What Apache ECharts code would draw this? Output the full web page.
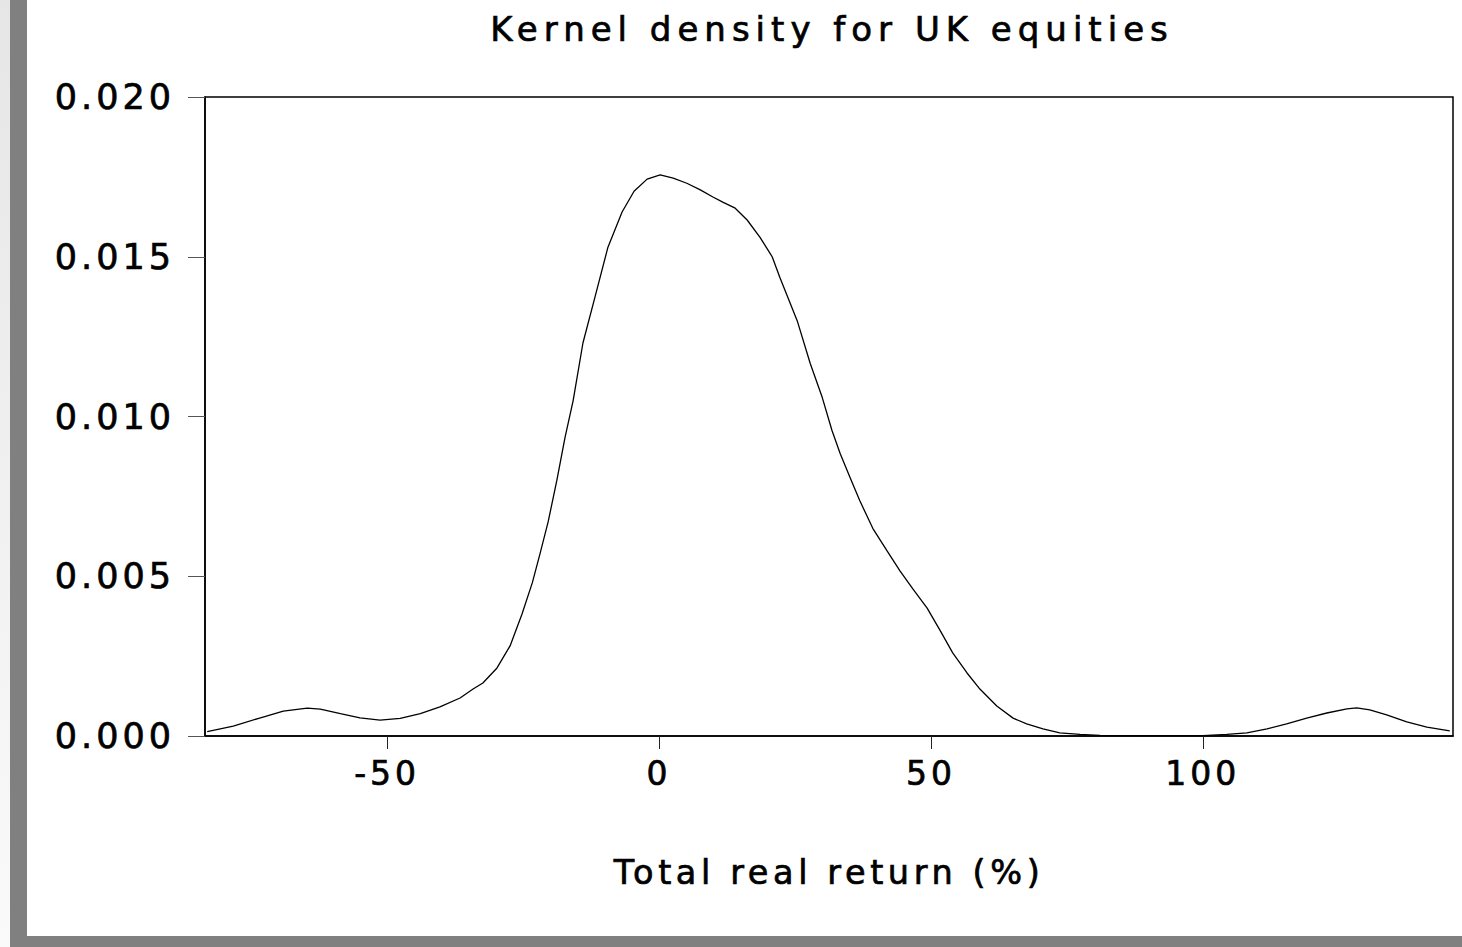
<!DOCTYPE html>
<html>
<head>
<meta charset="utf-8">
<script src="https://cdn.jsdelivr.net/npm/echarts@6/dist/echarts.min.js"></script>
<style>
  html, body { margin: 0; padding: 0; background: #fff; }
  #chart { width: 1462px; height: 947px; }
  /* wide, spaced-out lettering of the original graph export */
  #chart text { letter-spacing: 4px; }
  #chart text[style*="34px"] { letter-spacing: 6px; }
  #chart text[style*="33.5px"] { letter-spacing: 4.6px; }
</style>
</head>
<body>
<div id="chart"></div>
<script>
// Kernel density estimate of UK equity total real returns (%)
const returnPct = [
  -83.1, -78.3, -73.3, -69.1, -64.7, -62.3, -58.6, -55.0, -51.3, -47.6,
  -43.9, -40.3, -36.6, -34.2, -32.4, -29.8, -27.4, -25.2, -23.3, -21.9,
  -20.4, -18.8, -17.3, -15.8, -14.0, -11.8, -9.4, -6.8, -4.6, -2.2,
  0.2, 2.6, 5.1, 7.5, 9.9, 11.8, 14.0, 16.2, 18.6, 20.8,
  22.2, 25.4, 27.8, 30.0, 31.8, 33.3, 35.1, 36.9, 39.3, 41.9,
  44.3, 46.7, 49.3, 51.7, 54.0, 56.6, 59.0, 62.1, 65.1, 67.6,
  70.6, 73.7, 77.4, 81.1, 90.3, 100.0, 104.4, 108.1, 111.8, 115.4,
  119.1, 122.8, 126.5, 128.3, 130.7, 133.8, 137.5, 141.2, 145.4
];
const density = [
  0.000135, 0.00031, 0.00057, 0.00078, 0.00087, 0.00084, 0.00070, 0.00057, 0.00050, 0.00055,
  0.00070, 0.00091, 0.00119, 0.00147, 0.00166, 0.00213, 0.00282, 0.00382, 0.00480, 0.00570,
  0.00670, 0.00800, 0.00934, 0.01050, 0.01230, 0.01373, 0.01530, 0.01640, 0.01705, 0.01743,
  0.01756, 0.01746, 0.01730, 0.01710, 0.01687, 0.01670, 0.01652, 0.01615, 0.01560, 0.01500,
  0.01436, 0.01300, 0.01166, 0.01060, 0.00956, 0.00884, 0.00810, 0.00737, 0.00650, 0.00580,
  0.00517, 0.00460, 0.00400, 0.00330, 0.00260, 0.00198, 0.00147, 0.00094, 0.00056, 0.00038,
  0.00022, 0.00010, 0.00005, 0.00002, 0.00001, 0.00001, 0.00005, 0.00010, 0.00022, 0.00038,
  0.00056, 0.00072, 0.00085, 0.00088, 0.00082, 0.00066, 0.00044, 0.00028, 0.00016
];
const xTickValues = [-50, 0, 50, 100];
const titleText = 'Kernel density for UK equities';
const xAxisTitle = 'Total real return (%)';

const points = returnPct.map((x, i) => [x, density[i]]);

const chart = echarts.init(document.getElementById('chart'), null, { renderer: 'svg' });

const FONT = 'DejaVu Sans';
// a thin outline in the text colour gives the heavier strokes of the original lettering
const heavy = { textBorderColor: '#000', textBorderWidth: 0.7 };

chart.setOption({
  animation: false,
  backgroundColor: '#ffffff',
  textStyle: { fontFamily: FONT, color: '#000' },
  title: {
    text: titleText,
    left: 832,
    top: 12,
    padding: 0,
    textAlign: 'center',
    textStyle: Object.assign({ fontFamily: FONT, fontSize: 34, fontWeight: 'normal', color: '#000' }, heavy)
  },
  graphic: [
    {
      type: 'rect', z: -10, silent: true,
      shape: { x: 0, y: 0, width: 10, height: 947 },
      style: {
        fill: { type: 'linear', x: 0, y: 0, x2: 0, y2: 1,
          colorStops: [{ offset: 0, color: '#e6e6e6' }, { offset: 1, color: '#fafafa' }] }
      }
    },
    { type: 'rect', z: -10, silent: true, shape: { x: 10, y: 0, width: 17, height: 947 }, style: { fill: '#808080' } },
    { type: 'rect', z: -10, silent: true, shape: { x: 10, y: 936, width: 1452, height: 11 }, style: { fill: '#808080' } }
  ],
  grid: {
    left: 205, right: 9, top: 97, bottom: 211,
    show: true, borderColor: '#000', borderWidth: 1.5, backgroundColor: '#fff',
    outerBoundsMode: 'none'
  },
  xAxis: {
    type: 'value',
    min: -83.5,
    max: 146,
    name: xAxisTitle,
    nameLocation: 'middle',
    nameGap: 119,
    nameTextStyle: Object.assign({ fontFamily: FONT, fontSize: 33.5, color: '#000' }, heavy),
    axisLine: { show: true, onZero: false, lineStyle: { color: '#000', width: 1.5 } },
    axisTick: { show: true, customValues: xTickValues, length: 13, lineStyle: { color: '#222', width: 1 } },
    axisLabel: Object.assign({ customValues: xTickValues, margin: 21, fontFamily: FONT, fontSize: 33, color: '#000' }, heavy),
    splitLine: { show: false }
  },
  yAxis: {
    type: 'value',
    min: 0,
    max: 0.02,
    interval: 0.005,
    axisLine: { show: true, onZero: false, lineStyle: { color: '#000', width: 1.5 } },
    axisTick: { show: true, length: 17, lineStyle: { color: '#555', width: 1 } },
    axisLabel: Object.assign({
      margin: 30, fontFamily: FONT, fontSize: 35, color: '#000',
      padding: [0, 0, 8, 0],
      formatter: v => v.toFixed(3)
    }, heavy),
    splitLine: { show: false }
  },
  series: [{
    type: 'line',
    data: points,
    showSymbol: false,
    smooth: false,
    lineStyle: { color: '#000', width: 1.3 },
    clip: true
  }]
});
</script>
</body>
</html>
